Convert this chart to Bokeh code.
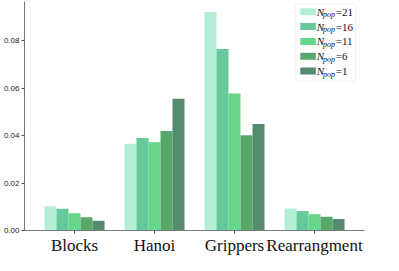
from bokeh.plotting import figure
from bokeh.models import (FactorRange, Range1d, ColumnDataSource, Label,
                          BoxAnnotation, FixedTicker, NumeralTickFormatter)
from bokeh.transform import dodge
from bokeh.embed import file_html
from bokeh.resources import INLINE

# ---------------- data ----------------
categories = ["Blocks", "Hanoi", "Grippers", "Rearrangment"]
series_labels = ["21", "16", "11", "6", "1"]
n21 = [0.0102, 0.0366, 0.0922, 0.0093]
n16 = [0.0092, 0.0390, 0.0766, 0.0082]
n11 = [0.0073, 0.0372, 0.0578, 0.0069]
n6 = [0.0056, 0.0420, 0.0402, 0.0058]
n1 = [0.0041, 0.0556, 0.0449, 0.0049]
y_ticks = [0.0, 0.02, 0.04, 0.06, 0.08]

colors = ["#b2efd4", "#66c99c", "#66d68a", "#58a86c", "#548a6e"]

# ---------------- layout ----------------
ML, MR, MT, MB = 22, 21, 1, 25
FW, FH = 340, 229
Y_MAX = 0.0966
BAR_W = 0.15
PAD = 0.125
X0, X1 = -PAD / 2, len(categories) + PAD / 2

series = [n21, n16, n11, n6, n1]
data = {"cat": categories}
for lab, vals in zip(series_labels, series):
    data["n" + lab] = vals
src = ColumnDataSource(data)

p = figure(x_range=FactorRange(*categories, range_padding=PAD,
                               range_padding_units="absolute"),
           y_range=Range1d(0, Y_MAX),
           frame_width=FW, frame_height=FH,
           min_border_left=ML, min_border_right=MR,
           min_border_top=MT, min_border_bottom=MB,
           output_backend="svg", toolbar_location=None)

n = len(series_labels)
for i, (lab, c) in enumerate(zip(series_labels, colors)):
    off = (i - (n - 1) / 2) * BAR_W
    p.vbar(x=dodge("cat", off, range=p.x_range), top="n" + lab, width=BAR_W,
           source=src, fill_color=c, line_color=None)

p.xgrid.visible = False
p.ygrid.visible = False
p.outline_line_color = None
p.background_fill_color = "white"

p.xaxis.axis_line_color = "#777777"
p.xaxis.major_tick_line_color = "#555555"
p.xaxis.major_tick_out = 3
p.xaxis.major_tick_in = 0
p.xaxis.minor_tick_line_color = None
p.xaxis.major_label_text_font = "Liberation Serif"
p.xaxis.major_label_text_font_size = "17px"
p.xaxis.major_label_text_color = "#111111"
p.xaxis.major_label_standoff = 2

p.yaxis.ticker = FixedTicker(ticks=y_ticks)
p.yaxis.formatter = NumeralTickFormatter(format="0.00")
p.yaxis.axis_line_color = "#777777"
p.yaxis.major_tick_line_color = "#555555"
p.yaxis.major_tick_out = 3
p.yaxis.major_tick_in = 0
p.yaxis.minor_tick_line_color = None
p.yaxis.major_label_text_font = "Liberation Sans"
p.yaxis.major_label_text_font_size = "8px"
p.yaxis.major_label_text_color = "#222222"
p.yaxis.major_label_standoff = 2


def fx2x(fx):
    return X0 + fx * (X1 - X0) / FW


def fy2y(fy):
    return Y_MAX - fy * Y_MAX / FH


# ---------------- legend (manual, for N_pop subscript) ----------------
p.add_layout(BoxAnnotation(left=fx2x(274.3), right=fx2x(336),
                           top=fy2y(2.2), bottom=fy2y(79.7),
                           fill_color="white", fill_alpha=0.85,
                           line_color="#cccccc", line_width=1,
                           border_radius=2))
for i, (lab, c) in enumerate(zip(series_labels, colors)):
    cy = 10.2 + 14.85 * i
    p.add_layout(BoxAnnotation(left=fx2x(279), right=fx2x(295),
                               top=fy2y(cy - 3.5), bottom=fy2y(cy + 3.5),
                               fill_color=c, fill_alpha=1, line_color=None))
    p.add_layout(Label(x=fx2x(296), y=fy2y(cy), text="N",
                       text_font="Liberation Serif", text_font_style="italic",
                       text_font_size="11px", text_baseline="middle",
                       text_color="#111111"))
    p.add_layout(Label(x=fx2x(302.5), y=fy2y(cy + 3), text="pop",
                       text_font="Liberation Serif", text_font_style="italic",
                       text_font_size="8px", text_baseline="middle",
                       text_color="#111111"))
    p.add_layout(Label(x=fx2x(315.5), y=fy2y(cy), text="=" + lab,
                       text_font="Liberation Serif",
                       text_font_size="11px", text_baseline="middle",
                       text_color="#111111"))

open("out.html", "w").write(file_html(p, INLINE))
